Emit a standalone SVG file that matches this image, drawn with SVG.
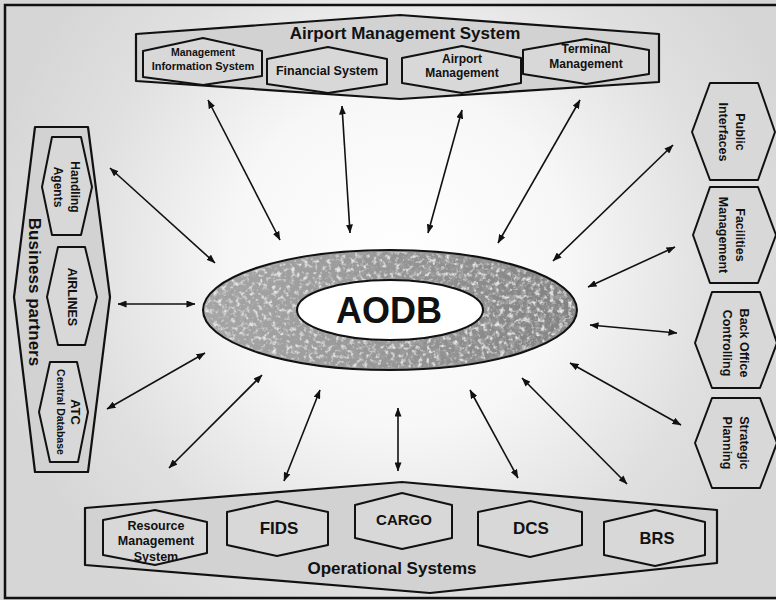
<svg xmlns="http://www.w3.org/2000/svg" width="776" height="600" viewBox="0 0 776 600">
<defs>
<style>
.t{font-family:"Liberation Sans",Arial,sans-serif;font-weight:bold;fill:#111;text-anchor:middle}
.cont{fill:#d2d2d2;stroke:#111;stroke-width:2.2;stroke-linejoin:round}
.hex{fill:#d8d8d8;stroke:#111;stroke-width:2;stroke-linejoin:round}
.arr{stroke:#111;stroke-width:1.6;fill:none;marker-start:url(#ah);marker-end:url(#ah)}
</style>
<radialGradient id="bg" cx="400" cy="260" r="420" gradientUnits="userSpaceOnUse">
<stop offset="0" stop-color="#ffffff"/>
<stop offset="0.4" stop-color="#f7f7f7"/>
<stop offset="0.75" stop-color="#e0e0e0"/>
<stop offset="1" stop-color="#d6d6d6"/>
</radialGradient>
<linearGradient id="ring" x1="0" y1="0" x2="1" y2="0">
<stop offset="0" stop-color="#a8a8a8"/>
<stop offset="0.5" stop-color="#959595"/>
<stop offset="1" stop-color="#808080"/>
</linearGradient>
<filter id="noise" x="0" y="0" width="100%" height="100%">
<feTurbulence type="fractalNoise" baseFrequency="0.2" numOctaves="3" seed="3" result="t"/>
<feColorMatrix in="t" type="matrix" values="0 0 0 0 0.35  0 0 0 0 0.35  0 0 0 0 0.35  0 0 0 3.5 -1.6" result="n"/>
<feComposite in="n" in2="SourceGraphic" operator="in"/>
</filter>
<filter id="noise2" x="0" y="0" width="100%" height="100%">
<feTurbulence type="fractalNoise" baseFrequency="0.22" numOctaves="3" seed="11" result="t"/>
<feColorMatrix in="t" type="matrix" values="0 0 0 0 0.78  0 0 0 0 0.78  0 0 0 0 0.78  0 0 0 3.5 -1.75" result="n"/>
<feComposite in="n" in2="SourceGraphic" operator="in"/>
</filter>
<marker id="ah" viewBox="0 0 10 10" refX="9.5" refY="5" markerWidth="9" markerHeight="7" markerUnits="userSpaceOnUse" orient="auto-start-reverse" preserveAspectRatio="none">
<path d="M0,0 L10,5 L0,10 z" fill="#111"/>
</marker>
</defs>

<rect x="0" y="0" width="776" height="600" fill="url(#bg)"/>
<rect x="5" y="5" width="790" height="593" fill="none" stroke="#111" stroke-width="2.5"/>

<g id="connectors">
<line class="arr" x1="208" y1="100" x2="280" y2="240"/>
<line class="arr" x1="342" y1="106" x2="350" y2="233"/>
<line class="arr" x1="462" y1="110" x2="428" y2="233"/>
<line class="arr" x1="580" y1="100" x2="498" y2="243"/>
<line class="arr" x1="673" y1="145" x2="553" y2="261"/>
<line class="arr" x1="675" y1="247" x2="588" y2="287"/>
<line class="arr" x1="677" y1="333" x2="590" y2="325"/>
<line class="arr" x1="681" y1="425" x2="570" y2="363"/>
<line class="arr" x1="169" y1="468" x2="262" y2="375"/>
<line class="arr" x1="284" y1="481" x2="320" y2="390"/>
<line class="arr" x1="398" y1="471" x2="398" y2="408"/>
<line class="arr" x1="518" y1="478" x2="470" y2="390"/>
<line class="arr" x1="627" y1="484" x2="522" y2="378"/>
<line class="arr" x1="110" y1="168" x2="215" y2="263"/>
<line class="arr" x1="118" y1="304" x2="195" y2="304"/>
<line class="arr" x1="107" y1="409" x2="205" y2="353"/>
</g>

<g id="aodb">
<ellipse cx="390" cy="310" rx="187" ry="60" fill="url(#ring)" stroke="#111" stroke-width="2"/>
<ellipse cx="390" cy="310" rx="185" ry="58" fill="#fff" filter="url(#noise)"/>
<ellipse cx="390" cy="310" rx="185" ry="58" fill="#fff" filter="url(#noise2)"/>
<ellipse cx="390" cy="310" rx="93" ry="30" fill="#fff" stroke="#111" stroke-width="2"/>
<text class="t" x="389" y="323" font-size="36">AODB</text>
</g>

<g id="airport-management-system">
<polygon class="cont" points="136,34 400,15 659,34 659,82 400,99 136,81"/>
<text class="t" x="405" y="39" font-size="17">Airport Management System</text>
</g>
<g id="mis">
<polygon class="hex" points="143,51 203,38 262,51 262,76 203,85 143,77"/>
<text class="t" x="203" y="56" font-size="10.5">Management</text>
<text class="t" x="203" y="70" font-size="11">Information System</text>
</g>
<g id="financial">
<polygon class="hex" points="267,59 328,47 387,59 387,84 328,93 267,84"/>
<text class="t" x="327" y="75" font-size="12.5">Financial System</text>
</g>
<g id="airport-mgmt">
<polygon class="hex" points="402,58 462,46 521,58 521,83 462,93 402,83"/>
<text class="t" x="462" y="63" font-size="12">Airport</text>
<text class="t" x="462" y="77" font-size="12">Management</text>
</g>
<g id="terminal-mgmt">
<polygon class="hex" points="523,50 586,39 649,50 649,74 586,84 523,74"/>
<text class="t" x="586" y="53" font-size="12">Terminal</text>
<text class="t" x="586" y="68" font-size="12">Management</text>
</g>

<g id="business-partners">
<polygon class="cont" points="35,127 88,127 110,297 88,472 35,472 14,297"/>
<text class="t" font-size="17" transform="translate(35,292) rotate(90)" x="0" y="6">Business partners</text>
</g>
<g id="handling-agents">
<polygon class="hex" points="52,137 81,137 92,187 81,235 52,235 42,187"/>
<g transform="translate(66,187) rotate(90)">
<text class="t" font-size="12" x="0" y="-4.5">Handling</text>
<text class="t" font-size="12" x="0" y="12.5">Agents</text>
</g>
</g>
<g id="airlines">
<polygon class="hex" points="58,247 85,247 97,297 85,345 58,345 47,297"/>
<text class="t" font-size="12.5" transform="translate(72,297) rotate(90)" x="0" y="4.5">AIRLINES</text>
</g>
<g id="atc">
<polygon class="hex" points="50,362 77,362 88,412 78,462 50,462 39,412"/>
<g transform="translate(66,412) rotate(90)">
<text class="t" font-size="13" x="0" y="-4.5">ATC</text>
<text class="t" font-size="10.5" x="0" y="9.5">Central Database</text>
</g>
</g>

<g id="public-interfaces">
<polygon class="hex" points="710,83 758,83 775,132 758,180 710,180 692,132"/>
<g transform="translate(732,132) rotate(90)">
<text class="t" font-size="12.5" x="0" y="-4">Public</text>
<text class="t" font-size="12.5" x="0" y="13">Interfaces</text>
</g>
</g>
<g id="facilities-management">
<polygon class="hex" points="710,187 758,187 776,235 758,283 710,283 693,235"/>
<g transform="translate(732,235) rotate(90)">
<text class="t" font-size="12.5" x="0" y="-4">Facilities</text>
<text class="t" font-size="12.5" x="0" y="13">Management</text>
</g>
</g>
<g id="back-office">
<polygon class="hex" points="712,292 760,292 777,343 760,388 712,388 695,343"/>
<g transform="translate(736,343) rotate(90)">
<text class="t" font-size="12.5" x="0" y="-4">Back Office</text>
<text class="t" font-size="12.5" x="0" y="13">Controlling</text>
</g>
</g>
<g id="strategic-planning">
<polygon class="hex" points="712,398 760,398 777,443 760,488 712,488 695,443"/>
<g transform="translate(736,443) rotate(90)">
<text class="t" font-size="12.5" x="0" y="-4">Strategic</text>
<text class="t" font-size="12.5" x="0" y="13">Planning</text>
</g>
</g>

<g id="operational-systems">
<polygon class="cont" points="85,508 402,482 717,510 717,563 430,593 85,565"/>
<text class="t" x="392" y="574" font-size="17">Operational Systems</text>
</g>
<g id="resource-mgmt">
<polygon class="hex" points="103,520 155,510 207,522 207,553 155,565 103,555"/>
<text class="t" x="156" y="530" font-size="12.5">Resource</text>
<text class="t" x="156" y="545" font-size="12.5">Management</text>
<text class="t" x="156" y="561" font-size="12.5">System</text>
</g>
<g id="fids">
<polygon class="hex" points="227,512 277,501 328,512 328,545 277,556 227,545"/>
<text class="t" x="279" y="534" font-size="17">FIDS</text>
</g>
<g id="cargo">
<polygon class="hex" points="355,505 402,493 452,505 452,538 402,549 355,538"/>
<text class="t" x="404" y="525" font-size="15">CARGO</text>
</g>
<g id="dcs">
<polygon class="hex" points="478,512 530,501 582,512 582,545 530,557 478,545"/>
<text class="t" x="531" y="534" font-size="17">DCS</text>
</g>
<g id="brs">
<polygon class="hex" points="604,522 655,510 705,522 705,555 655,566 604,555"/>
<text class="t" x="657" y="544" font-size="16.5">BRS</text>
</g>
</svg>
